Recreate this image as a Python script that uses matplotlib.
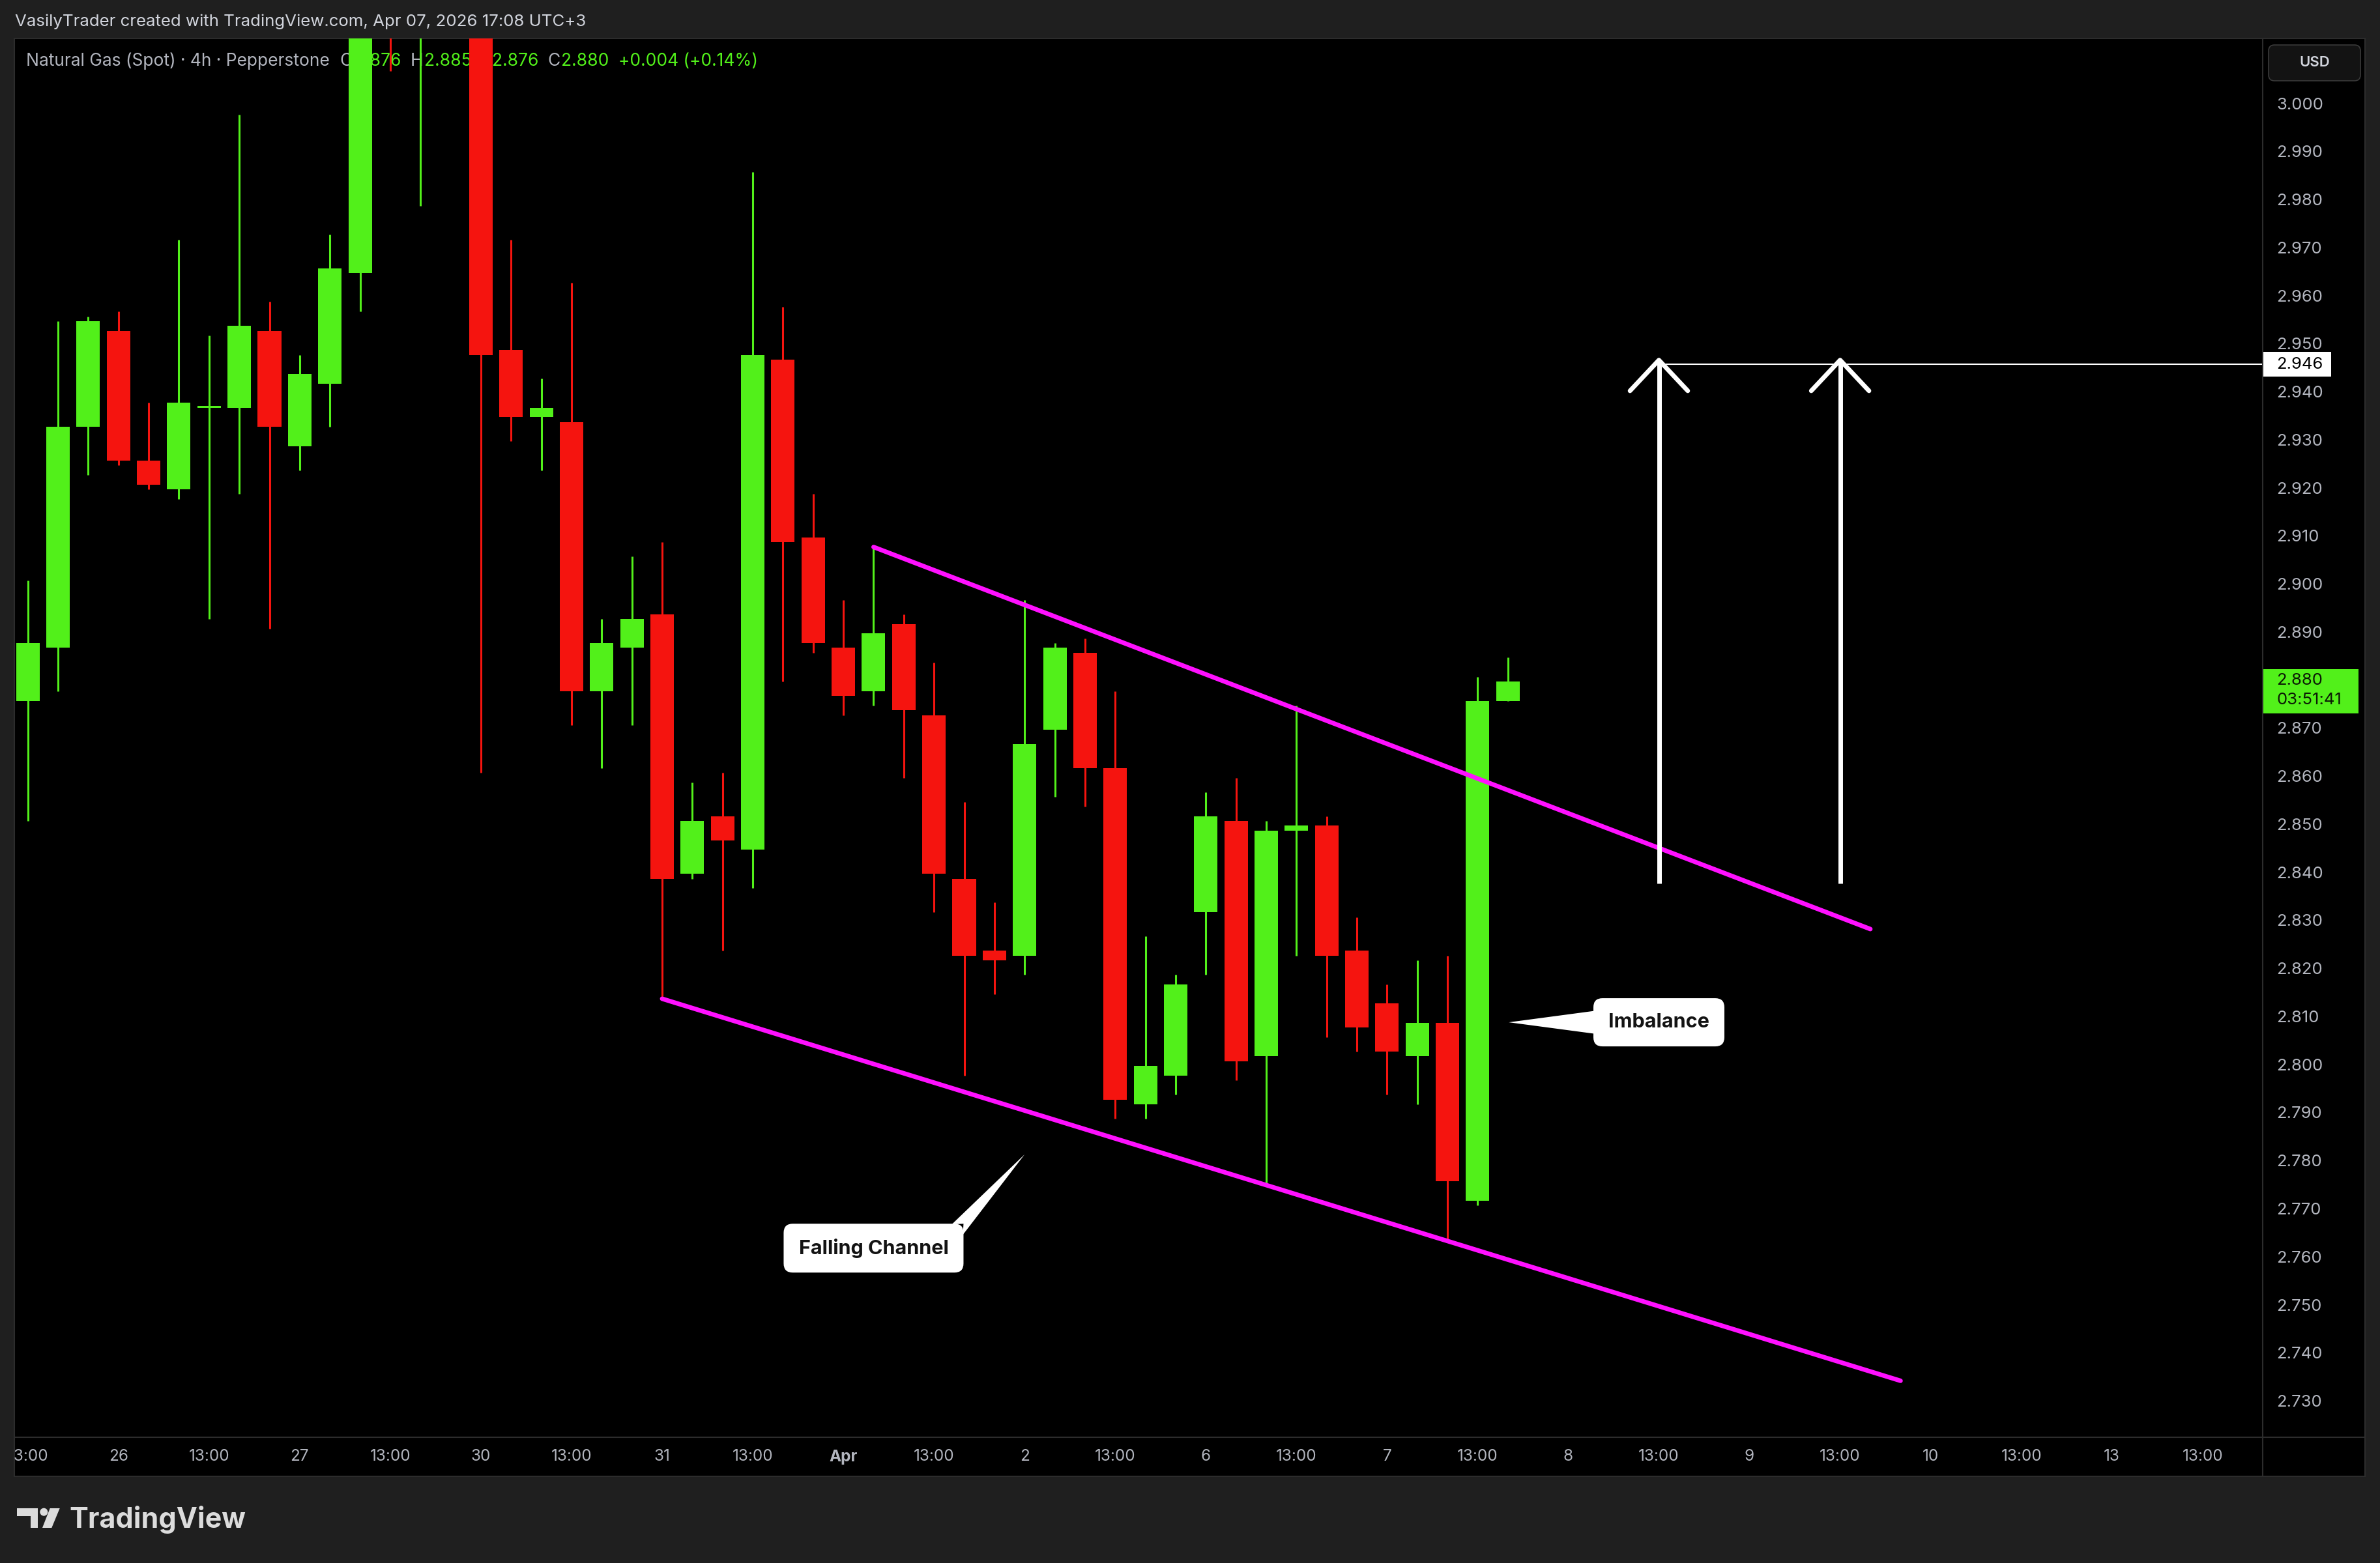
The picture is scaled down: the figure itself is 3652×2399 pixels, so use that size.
import matplotlib
matplotlib.use("Agg")
import matplotlib.pyplot as plt
import numpy as np
from matplotlib.patches import FancyBboxPatch, Polygon, Rectangle, Circle
from matplotlib.transforms import Affine2D, IdentityTransform

plt.rcParams['font.family'] = ['Inter', 'DejaVu Sans']

W, H, DPI = 3652, 2399, 100

BG_OUT = '#1f1f1f'
BG = '#000000'
BORDER = '#2c2c2c'
GREEN = '#52f01a'
RED = '#f5140f'
MAGENTA = '#ff10ff'
GRAY = '#b2b5be'
LIGHT = '#d1d4dc'

# 4h candles, Natural Gas (Spot), Pepperstone
opens = [2.876, 2.887, 2.933, 2.953, 2.926, 2.920, 2.937, 2.937, 2.953, 2.929,
         2.942, 2.965, 3.035, 3.020, 3.050, 3.030, 2.949, 2.935, 2.934, 2.878,
         2.887, 2.894, 2.840, 2.852, 2.845, 2.947, 2.910, 2.887, 2.878, 2.892,
         2.873, 2.839, 2.824, 2.823, 2.870, 2.886, 2.862, 2.792, 2.798, 2.832,
         2.851, 2.802, 2.849, 2.850, 2.824, 2.813, 2.802, 2.809, 2.772, 2.876]
highs = [2.901, 2.955, 2.956, 2.957, 2.938, 2.972, 2.952, 2.998, 2.959, 2.948,
         2.973, 3.040, 3.050, 3.060, 3.065, 3.040, 2.972, 2.943, 2.963, 2.893,
         2.906, 2.909, 2.859, 2.861, 2.986, 2.958, 2.919, 2.897, 2.908, 2.894,
         2.884, 2.855, 2.834, 2.897, 2.888, 2.889, 2.878, 2.827, 2.819, 2.857,
         2.860, 2.851, 2.875, 2.852, 2.831, 2.817, 2.822, 2.823, 2.881, 2.885]
lows = [2.851, 2.878, 2.923, 2.925, 2.920, 2.918, 2.893, 2.919, 2.891, 2.924,
        2.933, 2.957, 3.007, 2.979, 3.018, 2.861, 2.930, 2.924, 2.871, 2.862,
        2.871, 2.814, 2.839, 2.824, 2.837, 2.880, 2.886, 2.873, 2.875, 2.860,
        2.832, 2.798, 2.815, 2.819, 2.856, 2.854, 2.789, 2.789, 2.794, 2.819,
        2.797, 2.775, 2.823, 2.806, 2.803, 2.794, 2.792, 2.764, 2.771, 2.876]
closes = [2.888, 2.933, 2.955, 2.926, 2.921, 2.938, 2.937, 2.954, 2.933, 2.944,
          2.966, 3.030, 3.020, 3.045, 3.030, 2.948, 2.935, 2.937, 2.878, 2.888,
          2.893, 2.839, 2.851, 2.847, 2.948, 2.909, 2.888, 2.877, 2.890, 2.874,
          2.840, 2.823, 2.822, 2.867, 2.887, 2.862, 2.793, 2.800, 2.817, 2.852,
          2.801, 2.849, 2.850, 2.823, 2.808, 2.803, 2.809, 2.776, 2.876, 2.880]

# time axis (one tick every 3 bars = 12h)
tick_pos = [0, 3, 6, 9, 12, 15, 18, 21, 24, 27, 30, 33, 36, 39, 42, 45, 48,
            51, 54, 57, 60, 63, 66, 69, 72]
tick_labels = ['13:00', '26', '13:00', '27', '13:00', '30', '13:00', '31', '13:00',
               'Apr', '13:00', '2', '13:00', '6', '13:00', '7', '13:00', '8', '13:00',
               '9', '13:00', '10', '13:00', '13', '13:00']

price_ticks = [3.000, 2.990, 2.980, 2.970, 2.960, 2.950, 2.940, 2.930, 2.920, 2.910,
               2.900, 2.890, 2.880, 2.870, 2.860, 2.850, 2.840, 2.830, 2.820, 2.810,
               2.800, 2.790, 2.780, 2.770, 2.760, 2.750, 2.740, 2.730]

# drawings
channel_upper_x = [28, 61]
channel_upper_y = [2.908, 2.8285]
channel_lower_x = [21, 62]
channel_lower_y = [2.814, 2.7345]
arrow_x = [54, 60]
arrow_bottom = 2.838
arrow_top = 2.9469
target_price = 2.946
last_price = 2.880
countdown = '03:51:41'

x_range = (-0.447, 73.99)
y_range = (2.72275, 3.01383)


def rect(x0, y0, x1, y1):
    # pixel box measured from the top-left corner -> figure fraction
    return [x0 / W, 1 - y1 / H, (x1 - x0) / W, (y1 - y0) / H]


fig = plt.figure(figsize=(W / DPI, H / DPI), dpi=DPI, facecolor=BG_OUT)
ax = fig.add_axes(rect(22, 59, 3472, 2206))
ax_p = fig.add_axes(rect(3472, 59, 3629, 2206))
ax_t = fig.add_axes(rect(22, 2206, 3472, 2266))
ax_c = fig.add_axes(rect(3472, 2206, 3629, 2266))

for a in (ax, ax_p, ax_t, ax_c):
    a.set_facecolor(BG)
    a.set_xticks([])
    a.set_yticks([])
    for s in a.spines.values():
        s.set_color(BORDER)
        s.set_linewidth(1.5)

ax.set_xlim(*x_range)
ax.set_ylim(*y_range)
ax_t.set_xlim(*x_range)
ax_t.set_ylim(0, 1)
ax_p.set_xlim(0, 1)
ax_p.set_ylim(*y_range)

# candles
o = np.array(opens)
h = np.array(highs)
l = np.array(lows)
c = np.array(closes)
idx = np.arange(len(o))
cols = np.where(c >= o, GREEN, RED)
ax.vlines(idx, l, h, colors=cols, linewidth=2.2, zorder=3)
body_bottom = np.minimum(o, c)
body_h = np.maximum(np.abs(c - o), 0.0003)
ax.bar(idx, body_h, bottom=body_bottom, width=0.777, color=cols, linewidth=0, zorder=4)

# falling channel
ax.plot(channel_upper_x, channel_upper_y, color=MAGENTA, lw=5, solid_capstyle='round', zorder=5)
ax.plot(channel_lower_x, channel_lower_y, color=MAGENTA, lw=5, solid_capstyle='round', zorder=5)

# target arrows + level
for xa in arrow_x:
    ax.plot([xa, xa], [arrow_bottom, arrow_top], color='white', lw=5, solid_capstyle='butt', zorder=6)
    ax.plot([xa - 0.956, xa, xa + 0.956], [arrow_top - 0.0064, arrow_top, arrow_top - 0.0064],
            color='white', lw=5, solid_capstyle='round', solid_joinstyle='round', zorder=6)
ax.plot([arrow_x[0], x_range[1]], [target_price, target_price], color='white', lw=1.5, zorder=6)

# callouts (sized in pixels, anchored in data)
ident = IdentityTransform()


def callout_box(center, w, h_, label, fs):
    cx, cy = ax.transData.transform(center)
    box = FancyBboxPatch((cx - w / 2, cy - h_ / 2), w, h_,
                         boxstyle='round,pad=0,rounding_size=14',
                         transform=ident, facecolor='white', edgecolor='none', zorder=7)
    ax.add_patch(box)
    ax.text(cx, cy, label, transform=ident, ha='center', va='center',
            fontsize=fs, fontweight='bold', color='#131313', zorder=8)
    return cx, cy


cx, cy = callout_box((54.0, 2.8091), 201, 74, 'Imbalance', 22)
tx, ty = ax.transData.transform((49.03, 2.8091))
ax.add_patch(Polygon([(tx, ty), (cx - 99, cy + 17.5), (cx - 99, cy - 17.5)], closed=True,
                     transform=ident, facecolor='white', edgecolor='none', zorder=7))

cx, cy = callout_box((28.0, 2.7621), 276, 75, 'Falling Channel', 22)
tx, ty = ax.transData.transform((33.0, 2.7816))
right, top = cx + 138, cy + 37.5
ax.add_patch(Polygon([(right - 18, top - 1), (tx, ty), (right - 1, top - 17), (right, top)],
                     closed=True, transform=ident, facecolor='white', edgecolor='none', zorder=7))

# header legend (under the candles)
renderer = fig.canvas.get_renderer()
segments = [('Natural Gas (Spot) · 4h · Pepperstone', GRAY, 0),
            ('O', GRAY, 16), ('2.876', GREEN, 2),
            ('H', GRAY, 14), ('2.885', GREEN, 2),
            ('L', GRAY, 14), ('2.876', GREEN, 2),
            ('C', GRAY, 14), ('2.880', GREEN, 2),
            ('+0.004 (+0.14%)', GREEN, 14)]
xpos = 40
for txt, col, gap in segments:
    xpos += gap
    t = ax.text(xpos, H - 94, txt, transform=ident, ha='left', va='center',
                color=col, fontsize=19, zorder=2, clip_on=False)
    xpos += t.get_window_extent(renderer).width

# top caption
fig.text(23 / W, 1 - 33 / H, 'VasilyTrader created with TradingView.com, Apr 07, 2026 17:08 UTC+3',
         ha='left', va='center', color=LIGHT, fontsize=18.6)

# price axis
ytr = ax_p.get_yaxis_transform()
for p in price_ticks:
    ax_p.text(0.135, p, f'{p:.3f}', transform=ytr, ha='left', va='center',
              color=GRAY, fontsize=18.5, zorder=2, clip_on=True)
ax_p.add_patch(Rectangle((0.006, target_price - 0.00258), 0.66, 0.00516, transform=ytr,
                         facecolor='white', edgecolor='none', zorder=4))
ax_p.text(0.135, target_price, f'{target_price:.3f}', transform=ytr, ha='left', va='center',
          color='black', fontsize=18.5, zorder=5)
ax_p.add_patch(Rectangle((0.006, 2.8734), 0.93, 0.0092, transform=ytr,
                         facecolor=GREEN, edgecolor='none', zorder=4))
ax_p.text(0.135, last_price + 0.0002, f'{last_price:.3f}', transform=ytr, ha='left', va='center',
          color='#0b1a05', fontsize=18.5, zorder=5)
ax_p.text(0.135, 2.8761, countdown, transform=ytr, ha='left', va='center',
          color='#0b1a05', fontsize=18.5, zorder=5)
usd_box = FancyBboxPatch((3481, H - 124), 141, 55, boxstyle='round,pad=0,rounding_size=9',
                         transform=ident, facecolor='#131313', edgecolor='#3a3a3a',
                         linewidth=1.2, zorder=6)
ax_p.add_patch(usd_box)
ax_p.text(3551.5, H - 96.5, 'USD', transform=ident, ha='center', va='center',
          color=LIGHT, fontsize=16, fontweight='semibold', zorder=7)

# time axis
xtr = ax_t.get_xaxis_transform()
for pos, lab in zip(tick_pos, tick_labels):
    ax_t.text(pos, 0.5, lab, transform=xtr, ha='center', va='center', color=GRAY,
              fontsize=17.5, fontweight='bold' if lab == 'Apr' else 'normal', clip_on=True)

# TradingView logo
pix = Affine2D().scale(1, -1).translate(0, H)
for patch in (Rectangle((26, 2315), 32, 12), Rectangle((47, 2315), 11, 30),
              Circle((67.3, 2320.7), 6),
              Polygon([(76.7, 2315), (91.7, 2315), (79.3, 2345), (65, 2345)], closed=True)):
    patch.set_transform(pix)
    patch.set_facecolor('#dcdcdc')
    patch.set_edgecolor('none')
    fig.add_artist(patch)
fig.text(106 / W, 1 - 2345 / H, 'TradingView', ha='left', va='baseline',
         color='#dcdcdc', fontsize=31, fontweight='bold')

fig.savefig('out.png', dpi=DPI, facecolor=BG_OUT)
